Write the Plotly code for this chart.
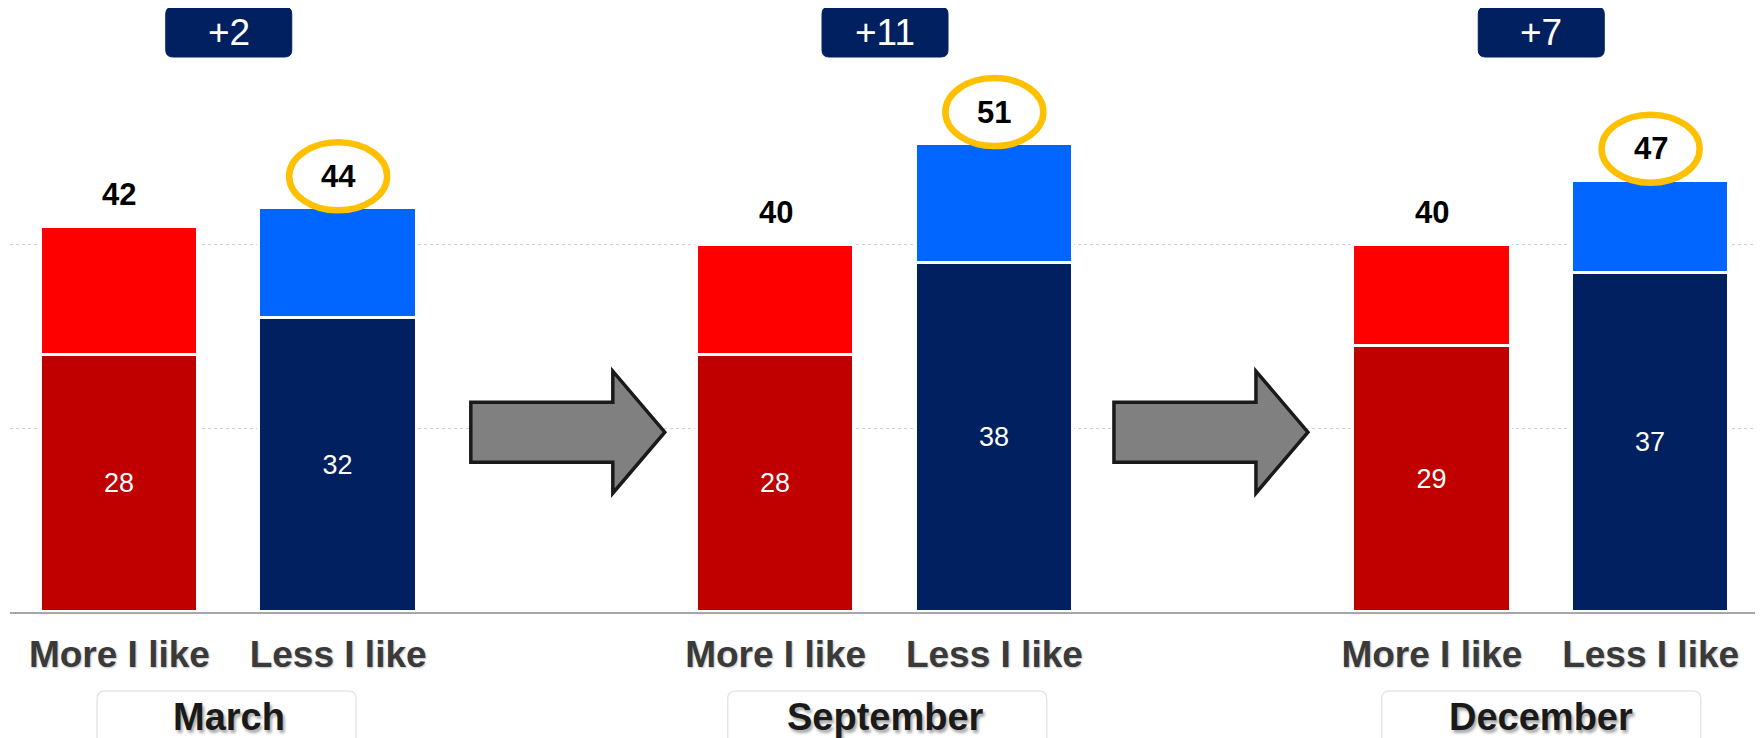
import plotly.graph_objects as go

# ---- data ----
months = ["March", "September", "December"]
categories = ["More I like", "Less I like", "More I like", "Less I like", "More I like", "Less I like"]
positions = [0, 1, 3, 4, 6, 7]
base_values = [28, 32, 28, 38, 29, 37]      # dark (inner) segment
top_values = [14, 12, 12, 13, 11, 10]       # light (upper) segment
totals = [42, 44, 40, 51, 40, 47]
highlight = [False, True, False, True, False, True]
diff_labels = ["+2", "+11", "+7"]
group_centers = [0.5, 3.5, 6.5]
arrow_x = [2.05, 4.99]

# ---- styles ----
dark_colors = ["#C00000", "#002060"] * 3
light_colors = ["#FF0000", "#0066FF"] * 3
FONT = "Liberation Sans, Arial, sans-serif"

# page has an 8px body margin: figure coordinates = reference coordinates - 8
OFF = 8
W, H = 1752, 738 - OFF
PLOT_TOP, PLOT_BOTTOM = 61 - OFF, 612 - OFF
PH = PLOT_BOTTOM - PLOT_TOP


def paper_y(ref_px):
    return (PLOT_BOTTOM - (ref_px - OFF)) / PH


fig = go.Figure()
fig.add_trace(go.Bar(
    x=positions, y=base_values, width=0.72,
    marker=dict(color=dark_colors, line=dict(color="white", width=3)),
    text=base_values, texttemplate="%{text}", textposition="inside",
    insidetextanchor="middle", textangle=0, constraintext="none",
    textfont=dict(color="white", size=27, family=FONT),
    hoverinfo="skip", showlegend=False,
))
fig.add_trace(go.Bar(
    x=positions, y=top_values, width=0.72,
    marker=dict(color=light_colors, line=dict(color="white", width=3)),
    hoverinfo="skip", showlegend=False,
))

shapes = []
annotations = []

# total labels + highlight ellipses
for xp, tot, hl in zip(positions, totals, highlight):
    annotations.append(dict(x=xp, y=tot, xref="x", yref="y", text=f"<b>{tot}</b>",
                            showarrow=False, yshift=32,
                            font=dict(size=31, color="black", family=FONT)))
    if hl:
        shapes.append(dict(type="circle", xref="x", yref="y",
                           xsizemode="pixel", ysizemode="pixel",
                           xanchor=xp, yanchor=tot,
                           x0=-49, x1=49, y0=32 - 34, y1=32 + 34,
                           line=dict(color="#FFC000", width=6.5), layer="above"))


def rounded_rect(w, h, r, top=None, bottom=None):
    x0, x1 = -w / 2, w / 2
    y0, y1 = (-h / 2, h / 2) if top is None else (bottom, top)
    return (f"M {x0 + r},{y0} L {x1 - r},{y0} Q {x1},{y0} {x1},{y0 + r} "
            f"L {x1},{y1 - r} Q {x1},{y1} {x1 - r},{y1} L {x0 + r},{y1} "
            f"Q {x0},{y1} {x0},{y1 - r} L {x0},{y0 + r} Q {x0},{y0} {x0 + r},{y0} Z")


# difference boxes at top
for gx, lab in zip(group_centers, diff_labels):
    shapes.append(dict(type="path", xref="x", yref="paper",
                       xsizemode="pixel", ysizemode="pixel",
                       xanchor=gx, yanchor=paper_y(32),
                       path=rounded_rect(126, 50, 7),
                       fillcolor="#002060", line=dict(color="#002060", width=1)))
    annotations.append(dict(x=gx, y=paper_y(33), xref="x", yref="paper", text=lab,
                            showarrow=False, yanchor="middle",
                            font=dict(size=37, color="white", family=FONT)))

# month label boxes
month_box_w = [259, 319, 319]
month_box_x = [0.49, 3.51, 6.5]
for mx, w in zip(month_box_x, month_box_w):
    shapes.append(dict(type="path", xref="x", yref="paper",
                       xsizemode="pixel", ysizemode="pixel",
                       xanchor=mx, yanchor=paper_y(717),
                       path=rounded_rect(w, 0, 8, top=26, bottom=-60),
                       fillcolor="rgba(0,0,0,0)", line=dict(color="#E6E6E6", width=1.5)))
for gx, m in zip(group_centers, months):
    annotations.append(dict(x=gx, y=paper_y(717), xref="x", yref="paper",
                            text=f"<b>{m}</b>", showarrow=False, yanchor="middle",
                            font=dict(size=38, color="#1A1A1A", family=FONT,
                                      shadow="2px 3px 3px rgba(0,0,0,0.35)")))

# arrows between groups
arrow_path = ("M -97,-30 L 45,-30 L 45,-61 L 97,0 L 45,61 L 45,30 L -97,30 Z")
for ax in arrow_x:
    shapes.append(dict(type="path", xref="x", yref="y",
                       xsizemode="pixel", ysizemode="pixel",
                       xanchor=ax, yanchor=19.6, path=arrow_path,
                       fillcolor="#808080", line=dict(color="#1A1A1A", width=3.5)))

fig.update_layout(
    width=W, height=H,
    margin=dict(l=10 - OFF, r=W - (1760 - OFF), t=PLOT_TOP, b=H - PLOT_BOTTOM),
    barmode="stack", bargap=0,
    plot_bgcolor="white", paper_bgcolor="white",
    shapes=shapes, annotations=annotations,
    xaxis=dict(range=[-0.5, 7.5], tickmode="array", tickvals=positions, ticktext=categories,
               tickfont=dict(size=37, color="#3A3A3A", family=FONT, weight="bold",
                             shadow="1px 1px 2px rgba(0,0,0,0.25)"),
               showline=True, linecolor="#A6A6A6", linewidth=2, showgrid=False,
               ticks="", ticklabelstandoff=9, zeroline=False, fixedrange=True),
    yaxis=dict(range=[0, 60.05], dtick=20, showticklabels=False, showgrid=True,
               gridcolor="#CFCFCF", griddash="dot", gridwidth=1, zeroline=False,
               fixedrange=True),
)

fig.write_html("out.html")
